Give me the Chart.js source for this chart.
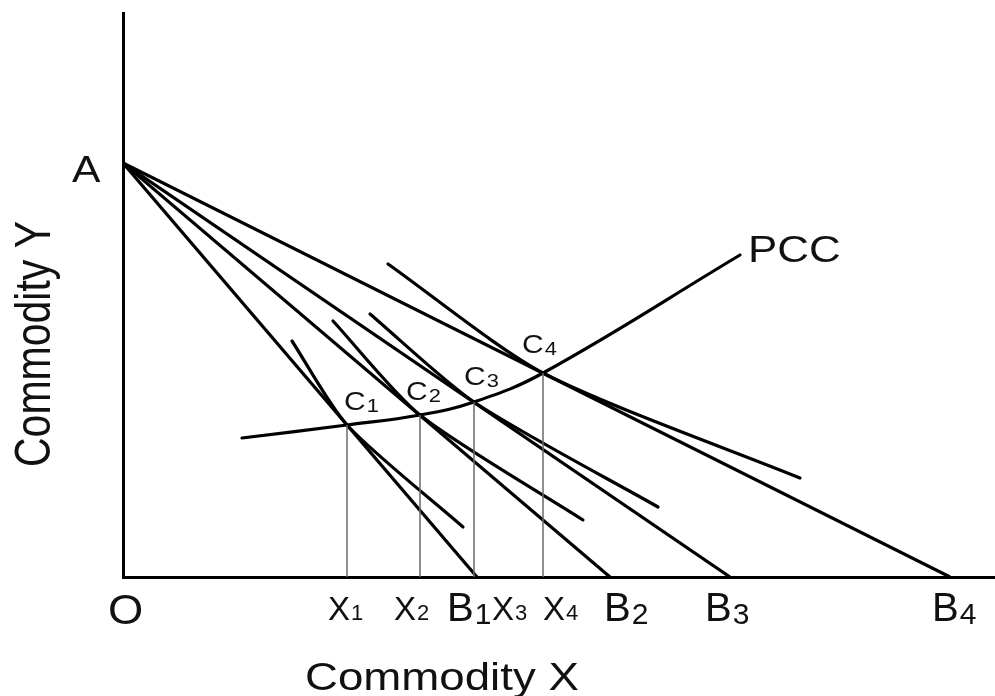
<!DOCTYPE html>
<html>
<head>
<meta charset="utf-8">
<title>Price Consumption Curve</title>
<script src="https://cdn.jsdelivr.net/npm/chart.js@4.4.0/dist/chart.umd.min.js"></script>
<style>
    html, body { margin: 0; padding: 0; background: #fff; }
    .chart-box { position: relative; width: 995px; height: 696px; }
</style>
</head>
<body>
<div class="chart-box"><canvas id="pccChart"></canvas></div>
<script>
// values (units are arbitrary quantities)
const axisMaxX = 87.2;
const axisMaxY = 56.4;
const pointA = 41.4;                          // Commodity Y intercept shared by every budget line
const budgetB = [35.4, 48.7, 60.7, 82.7];     // B1..B4 on Commodity X
const eqX = [22.4, 29.7, 35.1, 42.0];         // C1..C4
const eqY = [15.2, 16.2, 17.5, 20.4];
const icX = [[16.9, 22.4, 34.0], [21.0, 29.7, 46.0], [24.7, 35.1, 53.5], [26.5, 42.0, 67.7]];
const icY = [[23.6, 15.2, 5.0], [25.6, 16.2, 5.7], [26.3, 17.5, 7.0], [31.3, 20.4, 9.9]];
const pccX = [11.9, 22.4, 29.7, 35.1, 42.0, 61.7];
const pccY = [13.9, 15.2, 16.2, 17.5, 20.4, 32.2];

// label texts
const eqNames = [['C', '1'], ['C', '2'], ['C', '3'], ['C', '4']];
const xMarkNames = [['X', '1'], ['X', '2'], ['X', '3'], ['X', '4']];
const budgetNames = [['B', '1'], ['B', '2'], ['B', '3'], ['B', '4']];

const FONT = '"Liberation Sans", Arial, sans-serif';

function drawText(ctx, main, sub, left, base, size, subSize, subDrop, stretch) {
    ctx.save();
    ctx.translate(left, base);
    ctx.scale(stretch, 1);
    ctx.fillStyle = '#111';
    ctx.textAlign = 'left';
    ctx.textBaseline = 'alphabetic';
    ctx.font = size + 'px ' + FONT;
    ctx.fillText(main, 0, 0);
    if (sub) {
        const w = ctx.measureText(main).width;
        ctx.font = subSize + 'px ' + FONT;
        ctx.fillText(sub, w + 1, subDrop);
    }
    ctx.restore();
}

// pixel nudges for the labels, so they sit like in the picture
const eqLabelShift = [[-3, -15], [-14, -15], [-10, -17], [-21, -20]];
const xMarkShift = [-19, -26, 18, 0];
const budgetShift = [-30, -6, -25, -18];

const labelPlugin = {
    id: 'diagramLabels',
    afterDraw(chart) {
        const ctx = chart.ctx;
        const x = chart.scales.x;
        const y = chart.scales.y;
        const area = chart.chartArea;
        const x0 = x.getPixelForValue(0);
        const y0 = y.getPixelForValue(0);

        drawText(ctx, 'O', null, x0 - 15, y0 + 47, 42, 0, 0, 1.08);
        drawText(ctx, 'A', null, x0 - 51, y.getPixelForValue(pointA) + 19, 37, 0, 0, 1.15);

        eqX.forEach((v, i) => {
            drawText(ctx, eqNames[i][0], eqNames[i][1],
                x.getPixelForValue(v) + eqLabelShift[i][0], y.getPixelForValue(eqY[i]) + eqLabelShift[i][1],
                26, 19, 2, 1.15);
            drawText(ctx, xMarkNames[i][0], xMarkNames[i][1],
                x.getPixelForValue(v) + xMarkShift[i], y0 + 43, 33, 22, 0, 1);
        });

        budgetB.forEach((v, i) => {
            drawText(ctx, budgetNames[i][0], budgetNames[i][1],
                x.getPixelForValue(v) + budgetShift[i], y0 + 44, 40, 30, 3, 1);
        });

        const last = pccX.length - 1;
        drawText(ctx, 'PCC', null, x.getPixelForValue(pccX[last]) + 8, y.getPixelForValue(pccY[last]) + 7, 36, 0, 0, 1.22);

        // axis titles
        drawText(ctx, 'Commodity X', null, area.left + 182, area.bottom + 113, 39, 0, 0, 1.17);

        ctx.save();
        ctx.translate(area.left - 73, 344);
        ctx.scale(1.2, 1);
        ctx.rotate(-Math.PI / 2);
        ctx.fillStyle = '#111';
        ctx.textAlign = 'center';
        ctx.textBaseline = 'alphabetic';
        ctx.font = '41px ' + FONT;
        ctx.fillText('Commodity Y', 0, 0);
        ctx.restore();
    }
};

const datasets = [];

// thin drop lines from each equilibrium point to the X axis
eqX.forEach((v, i) => {
    datasets.push({
        data: [{ x: v, y: eqY[i] }, { x: v, y: 0 }],
        borderColor: '#6b6b6b',
        borderWidth: 1.5
    });
});

// budget lines A-B1 .. A-B4
budgetB.forEach(b => {
    datasets.push({
        data: [{ x: 0, y: pointA }, { x: b, y: 0 }],
        borderColor: '#000',
        borderWidth: 3.2
    });
});

// indifference curves touching each budget line
icX.forEach((xs, i) => {
    datasets.push({
        data: xs.map((v, j) => ({ x: v, y: icY[i][j] })),
        borderColor: '#000',
        borderWidth: 3.2,
        tension: 0.25,
        borderCapStyle: 'round'
    });
});

// price consumption curve
datasets.push({
    data: pccX.map((v, j) => ({ x: v, y: pccY[j] })),
    borderColor: '#000',
    borderWidth: 3.2,
    tension: 0.4,
    borderCapStyle: 'round'
});

datasets.forEach(ds => {
    ds.showLine = true;
    ds.pointRadius = 0;
    ds.fill = false;
});

new Chart(document.getElementById('pccChart'), {
    type: 'scatter',
    data: { datasets: datasets },
    options: {
        responsive: true,
        maintainAspectRatio: false,
        animation: false,
        layout: { padding: { left: 123, right: 0, top: 13, bottom: 119 } },
        plugins: {
            legend: { display: false },
            tooltip: { enabled: false }
        },
        scales: {
            x: {
                type: 'linear',
                min: 0,
                max: axisMaxX,
                grid: { display: false, drawTicks: false },
                ticks: { display: false },
                border: { display: true, color: '#000', width: 3 }
            },
            y: {
                type: 'linear',
                min: 0,
                max: axisMaxY,
                grid: { display: false, drawTicks: false },
                ticks: { display: false },
                border: { display: true, color: '#000', width: 3 }
            }
        }
    },
    plugins: [labelPlugin]
});
</script>
</body>
</html>
